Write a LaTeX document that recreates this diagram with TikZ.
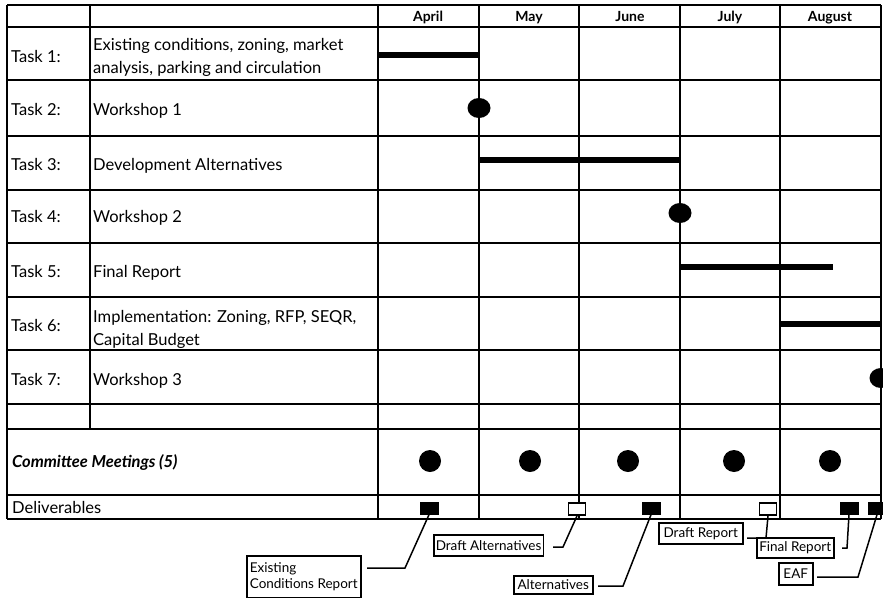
\documentclass[tikz,border=0pt]{standalone}
\usepackage{fontspec}
\setmainfont{Lato}
\usepackage{tikz}
\usetikzlibrary{positioning,shapes.geometric}
\def\gridw{2pt}
\def\barw{6pt}
\tikzset{
	gridline/.style={line width=\gridw,black},
	taskbar/.style={line width=\barw,black},
	taskdot/.style={ellipse,fill=black,minimum width=23pt,minimum height=20pt,inner sep=0pt},
	meetdot/.style={circle,fill=black,minimum size=22pt,inner sep=0pt},
	tasklbl/.style={anchor=base west,inner sep=0pt,font=\fontsize{16.5}{23}\selectfont},
	taskdesc/.style={anchor=base west,inner sep=0pt,align=left,font=\fontsize{16.5}{23}\selectfont},
	monthlbl/.style={anchor=base,inner sep=0pt,font=\fontsize{14}{16}\selectfont\bfseries},
	delfull/.style={rectangle,fill=black,minimum width=19pt,minimum height=13pt,inner sep=0pt},
	delopen/.style={rectangle,draw,line width=1.8pt,fill=white,minimum width=17pt,minimum height=12pt,inner sep=0pt},
	dellbl/.style={rectangle,draw,line width=1.5pt,inner sep=2pt,align=left,font=\fontsize{13.5}{16}\selectfont},
	dellink/.style={line width=1.5pt,black}
}
\newcommand{\taskrow}[4]{\node[tasklbl] (t#1) at (11,#2) {Task #1:};
	\node[taskdesc] (d#1) at (93,#3) {#4};}

\begin{document}
\begin{tikzpicture}[x=1pt,y=-1pt]
	\useasboundingbox (0,0) rectangle (883,597);
	% grid
	\foreach \y in {5,27,80,136,190,243,297,350,404,429,495,519}
		\draw[gridline] (7,\y) -- (881,\y);
	\foreach \x in {7,378,479,579,680,780,881}
		\draw[gridline] (\x,5) -- (\x,519);
	\draw[gridline] (90,5) -- (90,429);

	% months
	\node[monthlbl] (apr) at (428,21) {April};
	\node[monthlbl] (may) at (529,21) {May};
	\node[monthlbl] (jun) at (630,21) {June};
	\node[monthlbl] (jul) at (730,21) {July};
	\node[monthlbl] (aug) at (830,21) {August};

	% tasks
	\taskrow{1}{62}{73}{Existing conditions, zoning, market\\analysis, parking and circulation}
	\taskrow{2}{115}{115}{Workshop 1}
	\taskrow{3}{170}{170}{Development Alternatives}
	\taskrow{4}{222}{222}{Workshop 2}
	\taskrow{5}{277}{277}{Final Report}
	\taskrow{6}{331}{345}{Implementation: Zoning, RFP, SEQR,\\Capital Budget}
	\taskrow{7}{385}{385}{Workshop 3}
	\node[tasklbl,font=\fontsize{16.5}{23}\selectfont\bfseries\itshape] (cm) at (12,467) {Committee Meetings (5)};
	\node[tasklbl] (dl) at (12,513) {Deliverables};

	% bars and dots
	\draw[taskbar] (378,55) -- (479,55);
	\node[taskdot] (w1) at (479,108) {};
	\draw[taskbar] (479,160) -- (680,160);
	\node[taskdot] (w2) at (680,213) {};
	\draw[taskbar] (680,267) -- (833,267);
	\draw[taskbar] (780,324) -- (881,324);
	\node[taskdot] (w3) at (881,378) {};

	\foreach \x [count=\i] in {430,530,628,734,830}
		\node[meetdot] (m\i) at (\x,461) {};

	% deliverables
	\node[delfull] (ecr) at (429,508) {};
	\node[delopen] (dalt) at (577,509) {};
	\node[delfull] (alt) at (651,508) {};
	\node[delopen] (drep) at (768,509) {};
	\node[delfull] (frep) at (849,508) {};
	\node[delfull] (eaf) at (877,508) {};

	\node[dellbl,minimum width=114pt,minimum height=42pt,anchor=north west] (ecrl) at (246,555) {Existing\\Conditions Report};
	\node[dellbl,minimum width=107pt,minimum height=21pt,anchor=north west] (daltl) at (433,534) {Draft Alternatives};
	\node[dellbl,minimum width=79pt,minimum height=18pt,anchor=north west] (altl) at (513,575) {Alternatives};
	\node[dellbl,minimum width=84pt,minimum height=21pt,anchor=north west] (drepl) at (658,522) {Draft Report};
	\node[dellbl,minimum width=77pt,minimum height=20pt,anchor=north west,fill=white] (frepl) at (756,537) {Final Report};
	\node[dellbl,minimum width=34pt,minimum height=22pt,anchor=north west] (eafl) at (778,562) {EAF};

	\coordinate (ecrb) at (405,568);   \coordinate (ecre) at (367,568);
	\coordinate (daltb) at (563,547);  \coordinate (dalte) at (553,547);
	\coordinate (altb) at (623,586);   \coordinate (alte) at (598,586);
	\coordinate (drepb) at (766,538);  \coordinate (drepe) at (747,538);
	\coordinate (frepb) at (847,548);  \coordinate (frepe) at (842,548);
	\coordinate (eafb) at (858,577);   \coordinate (eafe) at (817,577);

	\draw[dellink] (ecr.south) -- (ecrb) -- (ecre);
	\draw[dellink] (dalt.south) -- (daltb) -- (dalte);
	\draw[dellink] (alt.south) -- (altb) -- (alte);
	\draw[dellink] (drep.south) -- (drepb) -- (drepe);
	\draw[dellink] (frep.south) -- (frepb) -- (frepe);
	\draw[dellink] (eaf.south) -- (eafb) -- (eafe);
\end{tikzpicture}
\end{document}
